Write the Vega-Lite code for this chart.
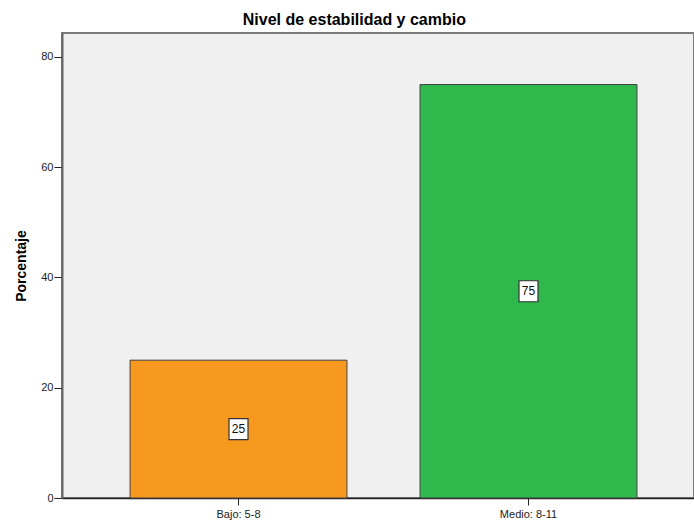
{
  "$schema": "https://vega.github.io/schema/vega-lite/v6.json",
  "width": 632,
  "height": 465,
  "autosize": {"type": "none"},
  "padding": {"left": 62, "top": 33, "right": 0, "bottom": 24},
  "background": "white",
  "title": {
    "text": "Nivel de estabilidad y cambio",
    "font": "Liberation Sans",
    "fontSize": 16,
    "fontWeight": "bold",
    "color": "#000000",
    "anchor": "middle",
    "frame": "bounds",
    "offset": 5
  },
  "config": {
    "view": {"fill": "#F0F0F0", "stroke": "#7a7a7a", "strokeWidth": 2},
    "font": "Liberation Sans"
  },
  "data": {
    "values": [
      {"nivel": "Bajo: 5-8", "porcentaje": 25},
      {"nivel": "Medio: 8-11", "porcentaje": 75}
    ]
  },
  "encoding": {
    "x": {
      "field": "nivel",
      "type": "nominal",
      "sort": null,
      "scale": {"paddingInner": 0.252, "paddingOuter": 0.2157, "align": 0.544},
      "axis": {
        "title": null,
        "labelAngle": 0,
        "labelFont": "Liberation Sans",
        "labelFontSize": 11,
        "labelColor": "#222222",
        "labelPadding": 3,
        "tickSize": 7,
        "tickColor": "#222222",
        "domainColor": "#222222",
        "domainWidth": 1.5
      }
    }
  },
  "layer": [
    {
      "mark": {"type": "bar", "stroke": "#404040", "strokeWidth": 1},
      "encoding": {
        "y": {
          "field": "porcentaje",
          "type": "quantitative",
          "scale": {"domain": [0, 84.35], "nice": false},
          "axis": {
            "title": "Porcentaje",
            "titleFont": "Liberation Sans",
            "titleFontSize": 14,
            "titleFontWeight": "bold",
            "titleColor": "#000000",
            "titlePadding": 12,
            "values": [0, 20, 40, 60, 80],
            "grid": false,
            "labelFont": "Liberation Sans",
            "labelFontSize": 11,
            "labelColor": "#222222",
            "labelPadding": 1,
            "tickSize": 8,
            "tickColor": "#222222",
            "domainColor": "#666666",
            "domainWidth": 2
          }
        },
        "color": {
          "field": "nivel",
          "type": "nominal",
          "scale": {"domain": ["Bajo: 5-8", "Medio: 8-11"], "range": ["#F7991F", "#2FB84B"]},
          "legend": null
        }
      }
    },
    {
      "layer": [
        {
          "mark": {"type": "point", "shape": "M-0.95,-1.05H0.95V1.05H-0.95Z", "size": 400, "filled": true, "fill": "white", "stroke": "#333333", "strokeWidth": 1.2, "opacity": 1}
        },
        {
          "mark": {"type": "text", "font": "Liberation Sans", "fontSize": 12, "color": "#111111", "baseline": "middle", "align": "center"},
          "encoding": {"text": {"field": "porcentaje", "type": "quantitative"}}
        }
      ],
      "encoding": {
        "y": {
          "field": "porcentaje",
          "type": "quantitative",
          "scale": {"domain": [0, 168.7], "nice": false},
          "axis": null
        }
      }
    }
  ],
  "resolve": {"scale": {"y": "independent"}}
}
